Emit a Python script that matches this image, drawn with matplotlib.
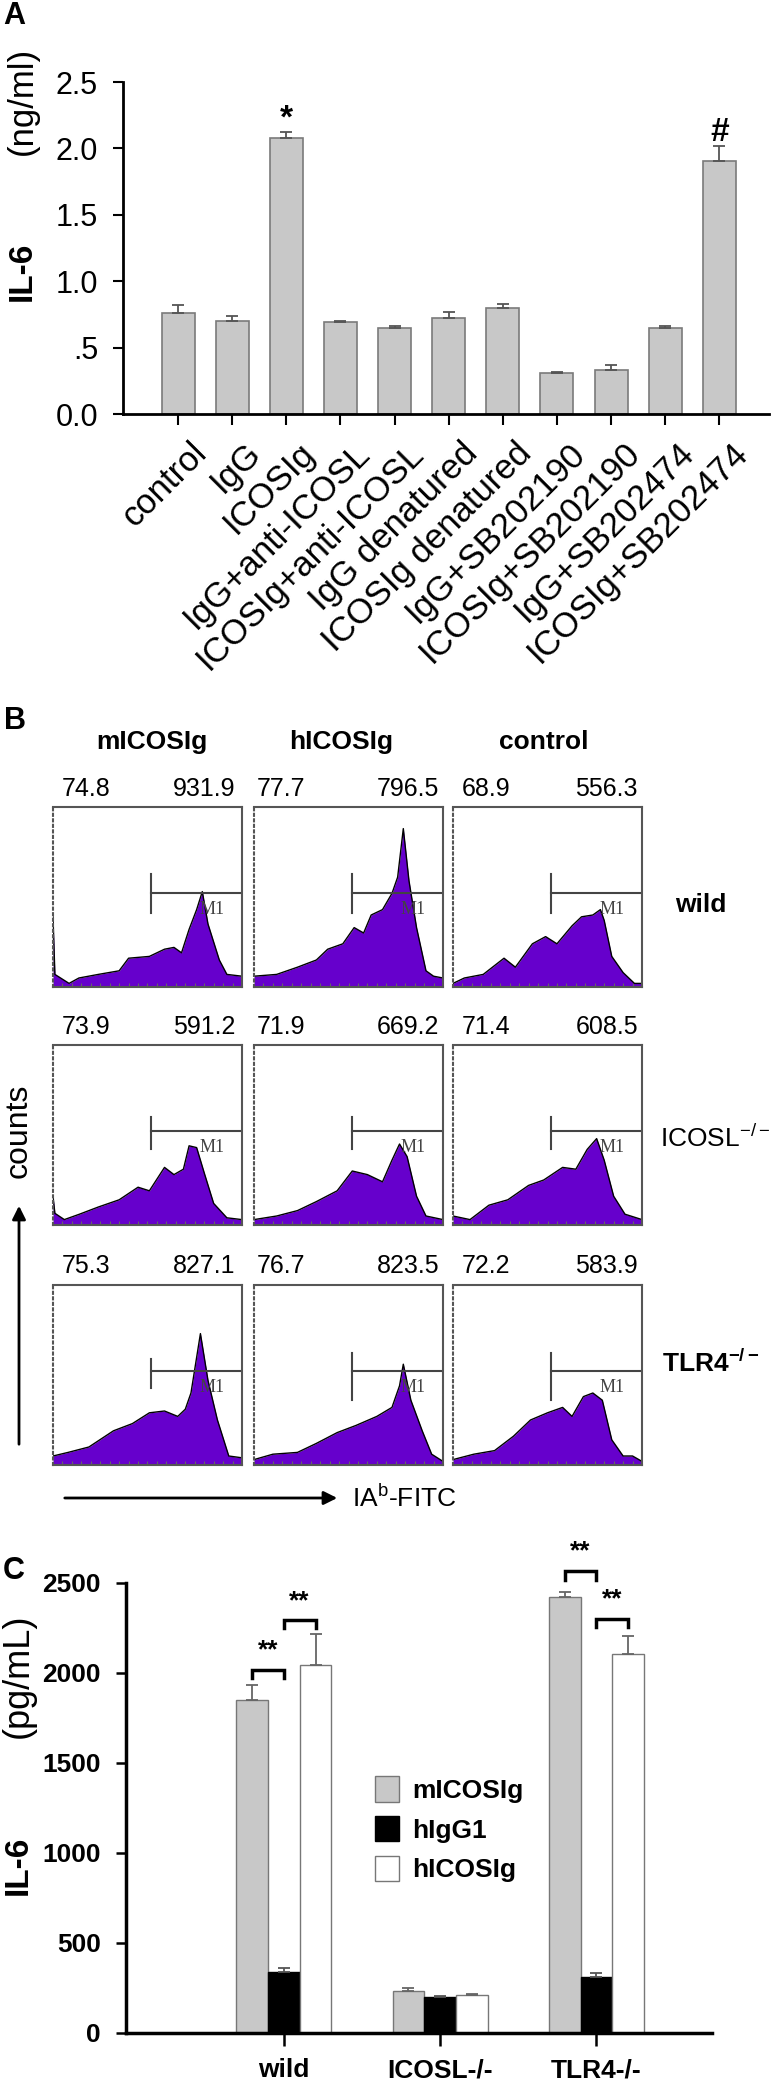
import numpy as np
import matplotlib
matplotlib.use("Agg")
import matplotlib.pyplot as plt
from matplotlib.transforms import ScaledTranslation

plt.rcParams['font.family'] = ['Liberation Sans', 'DejaVu Sans']
plt.rcParams['mathtext.fontset'] = 'custom'
plt.rcParams['mathtext.rm'] = 'Liberation Sans'
plt.rcParams['mathtext.bf'] = 'Liberation Sans:bold'

# ---- panel A data
a_labels = ['control', 'IgG', 'ICOSIg', 'IgG+anti-ICOSL', 'ICOSIg+anti-ICOSL',
            'IgG denatured', 'ICOSIg denatured', 'IgG+SB202190', 'ICOSIg+SB202190',
            'IgG+SB202474', 'ICOSIg+SB202474']
a_means = [0.76, 0.70, 2.08, 0.69, 0.65, 0.72, 0.795, 0.305, 0.335, 0.65, 1.905]
a_errs = [0.06, 0.035, 0.04, 0.01, 0.015, 0.05, 0.035, 0.015, 0.035, 0.015, 0.115]
a_marks = {2: ('*', 2.22), 10: ('#', 2.12)}

# ---- panel B data (histogram outlines, x = fraction of axis, y = fraction of box)
b_cols = ['mICOSIg', 'hICOSIg', 'control']
wild_hists = [
    ([0, 0.01, 0.085, 0.137, 0.24, 0.35, 0.40, 0.51, 0.59, 0.64, 0.68, 0.72, 0.76, 0.79, 0.82, 0.88, 0.92, 1.0],
     [0.39, 0.07, 0.02, 0.05, 0.07, 0.09, 0.16, 0.17, 0.21, 0.22, 0.19, 0.32, 0.43, 0.53, 0.35, 0.15, 0.07, 0.06]),
    ([0, 0.12, 0.23, 0.33, 0.39, 0.47, 0.53, 0.58, 0.62, 0.68, 0.73, 0.76, 0.79, 0.82, 0.86, 0.91, 0.95, 1.0],
     [0.06, 0.07, 0.11, 0.15, 0.21, 0.24, 0.33, 0.30, 0.40, 0.43, 0.52, 0.61, 0.88, 0.59, 0.33, 0.09, 0.06, 0.05]),
    ([0, 0.06, 0.16, 0.27, 0.33, 0.42, 0.49, 0.55, 0.63, 0.68, 0.74, 0.78, 0.80, 0.84, 0.90, 0.96, 1.0],
     [0.02, 0.05, 0.07, 0.16, 0.11, 0.24, 0.28, 0.24, 0.34, 0.39, 0.40, 0.43, 0.37, 0.17, 0.08, 0.02, 0.02]),
]
icosl_hists = [
    ([0, 0.01, 0.06, 0.14, 0.24, 0.35, 0.45, 0.51, 0.59, 0.64, 0.69, 0.72, 0.76, 0.80, 0.85, 0.92, 1.0],
     [0.16, 0.065, 0.03, 0.06, 0.10, 0.14, 0.21, 0.19, 0.32, 0.28, 0.31, 0.44, 0.43, 0.29, 0.12, 0.04, 0.03]),
    ([0, 0.12, 0.23, 0.33, 0.44, 0.52, 0.60, 0.68, 0.73, 0.77, 0.81, 0.86, 0.91, 1.0],
     [0.03, 0.05, 0.08, 0.13, 0.19, 0.30, 0.28, 0.24, 0.36, 0.45, 0.38, 0.16, 0.05, 0.03]),
    ([0, 0.09, 0.19, 0.29, 0.40, 0.48, 0.58, 0.65, 0.71, 0.76, 0.80, 0.85, 0.91, 1.0],
     [0.05, 0.03, 0.11, 0.14, 0.22, 0.25, 0.32, 0.31, 0.42, 0.48, 0.36, 0.16, 0.06, 0.03]),
]
tlr4_hists = [
    ([0, 0.08, 0.19, 0.32, 0.42, 0.51, 0.59, 0.66, 0.70, 0.73, 0.78, 0.82, 0.87, 0.93, 1.0],
     [0.05, 0.07, 0.10, 0.19, 0.23, 0.29, 0.30, 0.27, 0.31, 0.40, 0.73, 0.47, 0.25, 0.05, 0.04]),
    ([0, 0.10, 0.23, 0.33, 0.44, 0.54, 0.65, 0.73, 0.77, 0.79, 0.83, 0.89, 0.94, 1.0],
     [0.03, 0.06, 0.07, 0.12, 0.18, 0.22, 0.27, 0.32, 0.44, 0.56, 0.36, 0.19, 0.06, 0.02]),
    ([0, 0.11, 0.22, 0.32, 0.41, 0.50, 0.58, 0.63, 0.69, 0.74, 0.79, 0.84, 0.90, 0.95, 1.0],
     [0.03, 0.06, 0.08, 0.16, 0.25, 0.29, 0.32, 0.27, 0.38, 0.40, 0.36, 0.14, 0.05, 0.05, 0.02]),
]
hist_rows = [wild_hists, icosl_hists, tlr4_hists]
mfi_left = [['74.8', '77.7', '68.9'], ['73.9', '71.9', '71.4'], ['75.3', '76.7', '72.2']]
mfi_right = [['931.9', '796.5', '556.3'], ['591.2', '669.2', '608.5'], ['827.1', '823.5', '583.9']]

# ---- panel C data
c_groups = ['wild', 'ICOSL-/-', 'TLR4-/-']
c_series = ['mICOSIg', 'hIgG1', 'hICOSIg']
c_mICOSIg = [1850, 235, 2422]
c_mICOSIg_err = [83, 15, 28]
c_hIgG1 = [339, 200, 311]
c_hIgG1_err = [22, 3, 22]
c_hICOSIg = [2044, 211, 2106]
c_hICOSIg_err = [173, 4, 100]

W, H = 774, 2080
fig = plt.figure(figsize=(W / 100, H / 100), dpi=100)


def add_ax(l, t, r, b):
    return fig.add_axes([l / W, 1 - b / H, (r - l) / W, (b - t) / H])


# ================= panel A
axA = add_ax(123, 82, 769, 414)
xa = np.arange(len(a_labels))
axA.bar(xa, a_means, width=0.61, color='#c8c8c8', edgecolor='#7a7a7a', linewidth=1.2, zorder=2)
axA.errorbar(xa, a_means, yerr=[np.zeros(len(a_errs)), a_errs], fmt='none',
             ecolor='#555555', elinewidth=1.3, capsize=4, capthick=1.3, zorder=3)
for i, (m, ym) in a_marks.items():
    axA.text(xa[i], ym, m, ha='center', va='center', fontsize=24, fontweight='bold')
axA.set_xlim(-1.02, 10.92)
axA.set_ylim(0, 2.5)
axA.set_yticks([0, 0.5, 1.0, 1.5, 2.0, 2.5])
axA.set_yticklabels(['0.0', '.5', '1.0', '1.5', '2.0', '2.5'])
axA.set_xticks(xa)
axA.set_xticklabels(a_labels, rotation=45, ha='right', rotation_mode='anchor')
axA.tick_params(axis='y', direction='out', length=7, width=1.5, labelsize=22, pad=11)
axA.tick_params(axis='x', direction='out', length=8, width=1.5, labelsize=25, pad=8)
for lab in axA.get_xticklabels():
    lab.set_transform(lab.get_transform() + ScaledTranslation(0.12, 0, fig.dpi_scale_trans))
for s in ['top', 'right']:
    axA.spines[s].set_visible(False)
for s in ['left', 'bottom']:
    axA.spines[s].set_linewidth(2)

# ================= panel B
purple = '#6600cc'
cols_left = [53, 254, 453]
rows_top = [807, 1045, 1285]
box_w, box_h = 189, 180
gate_ticks = [[(0.41, 0.63)] * 3, [(0.42, 0.60)] * 3,
              [(0.43, 0.59), (0.36, 0.62), (0.36, 0.62)]]
for r, row in enumerate(hist_rows):
    for c, (hx, hy) in enumerate(row):
        l, t = cols_left[c], rows_top[r]
        ax = add_ax(l, t, l + box_w, t + box_h)
        ax.fill_between(hx, hy, 0, color=purple, linewidth=0)
        ax.plot(hx, hy, color='black', lw=1.0)
        ax.set_xlim(0, 1)
        ax.set_ylim(0, 1)
        ax.set_xticks(np.linspace(0.05, 0.95, 19))
        ax.set_xticklabels([])
        ax.set_yticks([])
        ax.tick_params(axis='x', direction='in', length=3, width=0.8, color='#666666')
        for s in ax.spines.values():
            s.set_color('#555555')
            s.set_linewidth(1.5)
        ax.spines['left'].set_linestyle(':')
        g0, g1 = gate_ticks[r][c]
        ax.plot([0.52, 1.0], [0.52, 0.52], color='#444444', lw=1.5)
        ax.plot([0.52, 0.52], [g0, g1], color='#444444', lw=1.5)
        ax.text(0.84, 0.43, 'M1', ha='center', va='center', fontsize=13,
                family='Liberation Serif', color='#444444')

# ================= panel C
axC = add_ax(126, 1583, 712, 2033)
xc = np.arange(len(c_groups))
bw = 0.203
bC1 = axC.bar(xc - bw, c_mICOSIg, width=bw, color='#c8c8c8', edgecolor='#777777', lw=1, zorder=2)
bC2 = axC.bar(xc, c_hIgG1, width=bw, color='black', edgecolor='black', lw=1, zorder=2)
bC3 = axC.bar(xc + bw, c_hICOSIg, width=bw, color='white', edgecolor='#777777', lw=1, zorder=2)
for off, vals, errs, ec in [(-bw, c_mICOSIg, c_mICOSIg_err, '#666666'),
                            (0, c_hIgG1, c_hIgG1_err, '#555555'),
                            (bw, c_hICOSIg, c_hICOSIg_err, '#666666')]:
    axC.errorbar(xc + off, vals, yerr=[np.zeros(3), errs], fmt='none', ecolor=ec,
                 elinewidth=1.3, capsize=4, capthick=1.3, zorder=3)
axC.set_xlim(-1.01, 2.74)
axC.set_ylim(0, 2500)
axC.set_yticks(np.arange(0, 2501, 500))
axC.set_xticks(xc)
axC.set_xticklabels(c_groups, fontweight='bold')
for lab in axC.get_yticklabels():
    lab.set_fontweight('bold')
axC.tick_params(axis='y', direction='out', length=7, width=1.8, labelsize=19, pad=11)
axC.tick_params(axis='x', direction='out', length=9, width=1.8, labelsize=19, pad=9)
for s in ['top', 'right']:
    axC.spines[s].set_visible(False)
for s in ['left', 'bottom']:
    axC.spines[s].set_linewidth(2.5)

# significance brackets
brackets = [(0 - bw, 0, 2017, 1972), (0, bw, 2294, 2250),
            (2 - bw, 2, 2567, 2517), (2, 2 + bw, 2300, 2256)]
for x0, x1, ytop, yleg in brackets:
    axC.plot([x0, x0, x1, x1], [yleg, ytop, ytop, yleg], color='black', lw=2.5,
             clip_on=False, solid_joinstyle='miter')
    axC.text((x0 + x1) / 2, ytop + 40, '**', ha='center', va='bottom', fontsize=19,
             fontweight='bold', clip_on=False)

axC.legend([bC1, bC2, bC3], c_series, loc='upper left', bbox_to_anchor=(362 / W, 1 - 1763 / H),
           bbox_transform=fig.transFigure, frameon=False, handlelength=0.9, handleheight=1.1,
           handletextpad=0.5, labelspacing=0.5, borderpad=0,
           prop={'weight': 'bold', 'size': 19})

# ================= overlay text and arrows (pixel coordinates)
ov = fig.add_axes([0, 0, 1, 1], zorder=10)
ov.set_xlim(0, W)
ov.set_ylim(H, 0)
ov.axis('off')
ov.patch.set_alpha(0)

ov.text(3, 1, 'A', fontsize=22, fontweight='bold', va='top', ha='left')
ov.text(4, 706, 'B', fontsize=22, fontweight='bold', va='top', ha='left')
ov.text(3, 1556, 'C', fontsize=22, fontweight='bold', va='top', ha='left')

ov.text(22, 271, 'IL-6', rotation=90, fontsize=24, fontweight='bold', ha='center', va='center')
ov.text(22, 101, '(ng/ml)', rotation=90, fontsize=25, ha='center', va='center')
ov.text(18, 1865, 'IL-6', rotation=90, fontsize=24, fontweight='bold', ha='center', va='center')
ov.text(18, 1676, '(pg/mL)', rotation=90, fontsize=26, ha='center', va='center')

head_x = [152, 341, 544]
for c, name in enumerate(b_cols):
    ov.text(head_x[c], 742, name, fontsize=19, fontweight='bold', ha='center', va='center')

num_y = [789, 1027, 1266]
num_lx = [62, 257, 462]
num_rx = [235, 439, 638]
for r in range(3):
    for c in range(3):
        ov.text(num_lx[c], num_y[r], mfi_left[r][c], fontsize=18, ha='left', va='center')
        ov.text(num_rx[c], num_y[r], mfi_right[r][c], fontsize=18, ha='right', va='center')

ov.text(675, 905, 'wild', fontsize=19, fontweight='bold', ha='left', va='center')
ov.text(660, 1138, r'ICOSL$^{\mathrm{-/-}}$', fontsize=19, ha='left', va='center')
ov.text(662, 1363, r'TLR4$^{\mathbf{-/-}}$', fontsize=19, fontweight='bold', ha='left', va='center')

ov.annotate('', xy=(19, 1203), xytext=(19, 1447),
            arrowprops=dict(arrowstyle='-|>', color='black', lw=2, mutation_scale=20))
ov.text(19, 1131, 'counts', rotation=90, fontsize=23, ha='center', va='center')
ov.annotate('', xy=(340, 1498), xytext=(62, 1498),
            arrowprops=dict(arrowstyle='-|>', color='black', lw=2, mutation_scale=20))
ov.text(352, 1498, r'IA$^{\mathrm{b}}$-FITC', fontsize=19, ha='left', va='center')

fig.savefig('out.png', dpi=100)
